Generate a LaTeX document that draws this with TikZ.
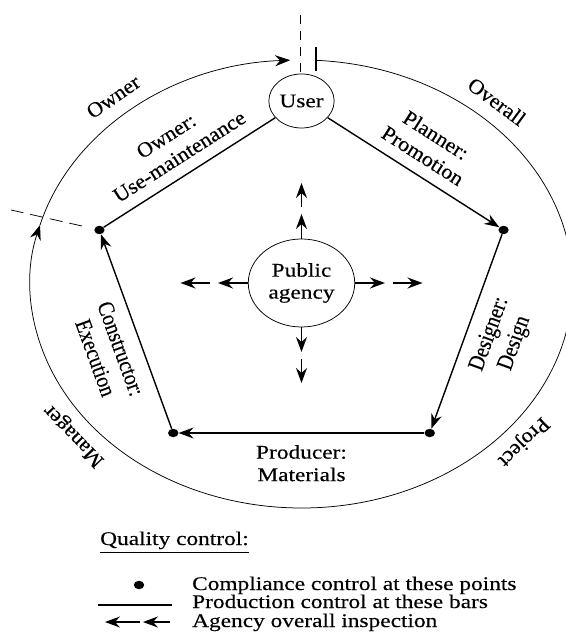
\documentclass[tikz,border=0pt]{standalone}
\usepackage{fontspec}
\setmainfont[FakeBold=0.3]{Liberation Serif}
% widened faces: horizontal text, text along the slanted edges, text along the steep edges
\newfontfamily\txtflat[FakeStretch=1.21, FakeBold=0.3]{Liberation Serif}
\newfontfamily\txtdiag[FakeStretch=1.05, FakeBold=0.3]{Liberation Serif}
\newfontfamily\txtsteep[FakeStretch=0.857, FakeBold=0.3]{Liberation Serif}
\usetikzlibrary{arrows.meta}
\begin{document}
% Geometry is laid out round, then widened by 1.21 horizontally.
\begin{tikzpicture}[x=1pt, y=1pt, xscale=1.21,
  every node/.style={font=\fontsize{19.3}{22.5}\selectfont},
  flat/.style={font=\txtflat\fontsize{19.3}{22.5}\selectfont},
  diag/.style={font=\txtdiag\fontsize{20.9}{24.4}\selectfont},
  steep/.style={font=\txtsteep\fontsize{23}{26.8}\selectfont},
  ring/.style={line width=0.75pt},
  bar/.style={line width=1.4pt},
  tip/.style={-{Stealth[length=15pt,width=11pt,inset=5pt]}},
  guide/.style={line width=0.75pt, dash pattern=on 9pt off 7pt},
  dot/.style={circle, fill, inner sep=0pt, minimum size=8.5pt, transform shape},
  hub/.style={circle, draw, line width=0.75pt, inner sep=0pt, align=center, transform shape},
  lbl/.style={inner sep=0pt, align=center},
  rim/.style={inner sep=0pt, anchor=base, diag}
]
\useasboundingbox (-249.17,-360) rectangle (217.77,284);

% ---- outer cycle: overall project manager ----
\draw[ring, tip] (86.9:224) arc[start angle=86.9, end angle=-195.3, radius=224];
\draw[ring, tip] (164.7:224) arc[start angle=164.7, end angle=92.4, radius=224];
\coordinate (tick-a) at (12,213);
\coordinate (tick-b) at (12,237);
\draw[line width=1.1pt] (tick-a) -- (tick-b);
\coordinate (cut-top-a) at (-1,212);
\coordinate (cut-top-b) at (-1,272);
\draw[guide] (cut-top-a) -- (cut-top-b);
\coordinate (cut-left-a) at (-181.4,58);
\coordinate (cut-left-b) at (-240,74);
\draw[line width=0.75pt, dash pattern=on 13pt off 7pt] (cut-left-a) -- (cut-left-b);

\node[rim, rotate=34.74]  (rim-owner)   at (130:237)   {Owner};
\node[rim, rotate=-36.46] (rim-overall) at (48.2:237)  {Overall};
\node[rim, rotate=224.06] (rim-project) at (319.5:237) {Project};
\node[rim, rotate=134.11] (rim-manager) at (218.7:237) {Manager};

% ---- production pentagon ----
\node[hub, minimum size=54pt] (user) at (0,183) {User};
\node[dot] (R)  at (167,54) {};
\node[dot] (BR) at (106,-149) {};
\node[dot] (BL) at (-106,-149) {};
\node[dot] (L)  at (-167,54) {};

\draw[bar] (L) -- (user);
\draw[bar, tip] (user) -- (R);
\draw[bar, tip] (R) -- (BR);
\draw[bar, tip] (BR) -- (BL);
\draw[bar, tip] (BL) -- (L);

\node[lbl, diag,  anchor=south, rotate=32.57]  (lbl-owner)       at (-97.75,121.4) {Owner:\\Use-maintenance};
\node[lbl, diag,  anchor=south, rotate=-32.57] (lbl-planner)     at (96.96,122.0)  {Planner:\\Promotion};
\node[lbl, steep, anchor=north, rotate=70.05]  (lbl-designer)    at (147.7,-46.7)  {Designer:\\Design};
\node[lbl, steep, anchor=north, rotate=-70.05] (lbl-constructor) at (-143.1,-62.0) {Constructor:\\Execution};
\node[lbl, flat,  anchor=north]                (lbl-producer)    at (0,-161)       {Producer:\\Materials};

% ---- public agency and its inspection arrows ----
\node[hub, minimum size=88pt, font=\fontsize{19.3}{22}\selectfont] (pa) at (0,1) {Public\\agency};
\begin{scope}[shift={(0,1)}]
  \foreach \ang/\dir/\side in {90/n/north, 270/s/south, 180/w/west, 0/e/east} {
    \coordinate (pa-\dir-1) at (\ang:69);
    \coordinate (pa-\dir-2) at (\ang:76);
    \coordinate (pa-\dir-3) at (\ang:100);
    \draw[bar, tip] (pa.\side) -- (pa-\dir-1);
    \draw[bar, tip] (pa-\dir-2) -- (pa-\dir-3);
  }
\end{scope}

% ---- key ----
\node[flat, inner sep=0pt, anchor=base west] (qc) at (-166.5,-261) {Quality control:};
\draw[line width=0.75pt] ([yshift=-7pt]qc.base west) -- ([yshift=-7pt]qc.base east);

\node[dot] (key-dot) at (-134.3,-301) {};
\node[flat, inner sep=0pt, anchor=base west] (key-dot-txt) at (-90.5,-306) {Compliance control at these points};

\coordinate (key-bar-a) at (-168.2,-321);
\coordinate (key-bar-b) at (-107,-321);
\draw[bar] (key-bar-a) -- (key-bar-b);
\node[flat, inner sep=0pt, anchor=base west] (key-bar-txt) at (-90.5,-324) {Production control at these bars};

\coordinate (key-arr-1a) at (-133.5,-338);
\coordinate (key-arr-1b) at (-162.4,-338);
\coordinate (key-arr-2a) at (-108.7,-338);
\coordinate (key-arr-2b) at (-131,-338);
\draw[bar, tip] (key-arr-1a) -- (key-arr-1b);
\draw[bar, tip] (key-arr-2a) -- (key-arr-2b);
\node[flat, inner sep=0pt, anchor=base west] (key-arr-txt) at (-90.5,-343) {Agency overall inspection};
\end{tikzpicture}
\end{document}
